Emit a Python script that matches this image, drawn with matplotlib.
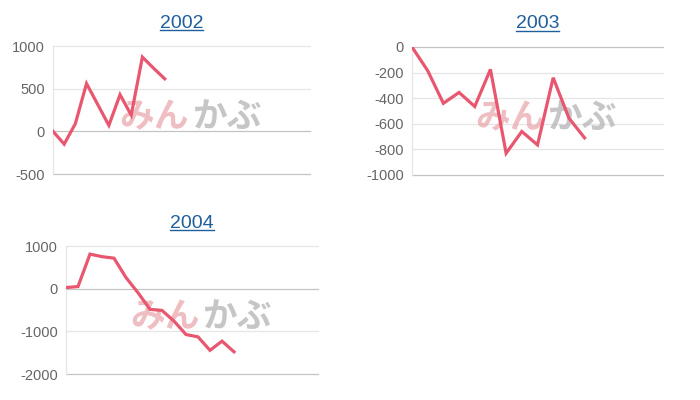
#!/usr/bin/env python3
"""Three small yearly cumulative line charts -> out.png."""

import matplotlib
matplotlib.use("Agg")
import matplotlib.pyplot as plt
from matplotlib.lines import Line2D

# values, one list per year
years = ["2002", "2003", "2004"]
values_2002 = [0, -150, 90, 560, 315, 70, 430, 190, 870, 740, 615]
values_2003 = [0, -185, -440, -355, -465, -175, -830, -660, -765, -240, -555, -710]
values_2004 = [25, 50, 810, 750, 715, 260, -95, -485, -510, -760, -1075, -1130,
               -1445, -1230, -1480]
n_slots = [24, 17, 22]          # category slots on each hidden x axis
y_ticks = [[-500, 0, 500, 1000],
           [-1000, -800, -600, -400, -200, 0],
           [-2000, -1000, 0, 1000]]

LINE = "#e8576f"
TITLE = "#1f5f9c"
TICK = "#666666"
GRID = "#e6e6e6"
AXIS = "#c4c4c4"

plt.rcParams["font.family"] = ["Liberation Sans", "DejaVu Sans"]

fig = plt.figure(figsize=(7, 4), dpi=100)
boxes = [(53, 46, 257), (412, 47, 251), (66, 246, 252)]   # left, top, width px
series = [values_2002, values_2003, values_2004]
titles = []

for (left, top, width), year, vals, n, ticks in zip(boxes, years, series,
                                                    n_slots, y_ticks):
    ax = fig.add_axes([left / 700, 1 - (top + 128) / 400, width / 700, 128 / 400])
    ax.plot(range(len(vals)), vals, color=LINE, lw=2.3, zorder=3,
            solid_joinstyle="miter")
    ax.set_xlim(0, n - 1)
    ax.set_ylim(ticks[0], ticks[-1])
    ax.set_yticks(ticks)
    ax.set_yticklabels([str(t) for t in ticks])
    ax.set_xticks([])
    ax.tick_params(axis="y", length=0, pad=6, labelsize=10.5, labelcolor=TICK)
    for t in ticks:
        c = AXIS if t in (0, ticks[0]) else GRID
        ax.axhline(t, color=c, lw=0.9, zorder=1, clip_on=False)
    for s in ("top", "right", "bottom"):
        ax.spines[s].set_visible(False)
    ax.spines["left"].set_color(GRID)
    ax.spines["left"].set_linewidth(0.9)

    # watermark logo
    ax.text(0.53, 0.45, "みん", transform=ax.transAxes, ha="right", va="center",
            fontsize=25, fontweight="bold", color="#e9a3a8", alpha=0.7,
            family=["Noto Sans CJK JP"], zorder=2)
    ax.text(0.54, 0.45, "かぶ", transform=ax.transAxes, ha="left", va="center",
            fontsize=25, fontweight="bold", color="#b4b4b4", alpha=0.75,
            family=["Noto Sans CJK JP"], zorder=2)

    cx = (left + width / 2) / 700
    ty = 1 - (top - 23) / 400
    titles.append(fig.text(cx, ty, year, ha="center", va="center",
                           fontsize=14, color=TITLE))

# underline the titles like links
fig.canvas.draw()
inv = fig.transFigure.inverted()
for t in titles:
    bb = t.get_window_extent()
    (x0, y0), (x1, _) = inv.transform([(bb.x0, bb.y0), (bb.x1, bb.y1)])
    fig.add_artist(Line2D([x0, x1], [y0 + 0.004, y0 + 0.004],
                          transform=fig.transFigure, color=TITLE, lw=1.0))

fig.savefig("out.png", dpi=100)
